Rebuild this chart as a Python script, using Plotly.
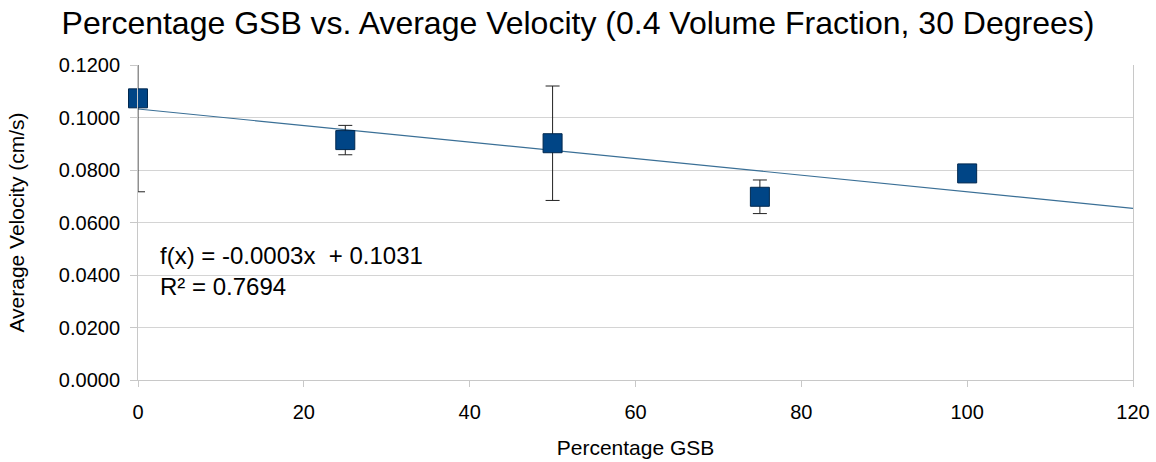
import numpy as np
import plotly.graph_objects as go

pct_gsb = [0, 25, 50, 75, 100]
avg_velocity = [0.1073, 0.0914, 0.0902, 0.0698, 0.0787]
velocity_err = [0.0356, 0.0056, 0.0218, 0.0064, 0.0003]
y_ticks = [0.0, 0.02, 0.04, 0.06, 0.08, 0.10, 0.12]
y_tick_labels = ["0.0000", "0.0200", "0.0400", "0.0600", "0.0800", "0.1000", "0.1200"]
x_ticks = [0, 20, 40, 60, 80, 100, 120]

slope, intercept = np.polyfit(pct_gsb, avg_velocity, 1)
trend_x = np.array([0, 120])
trend_y = slope * trend_x + intercept

FONT = "Liberation Sans, Arial, sans-serif"

fig = go.Figure()
fig.add_trace(go.Scatter(
    x=trend_x, y=trend_y, mode="lines",
    line=dict(color="#3a6f96", width=1.2), hoverinfo="skip", showlegend=False))
# error bars (clipped to plot area)
fig.add_trace(go.Scatter(
    x=pct_gsb, y=avg_velocity, mode="markers",
    marker=dict(size=1, color="rgba(0,0,0,0)"),
    error_y=dict(type="data", array=velocity_err, visible=True,
                 color="#222222", thickness=1, width=7),
    cliponaxis=True, showlegend=False))
# markers (not clipped)
fig.add_trace(go.Scatter(
    x=pct_gsb, y=avg_velocity, mode="markers",
    marker=dict(symbol="square", size=19, color="#004586",
                line=dict(color="#00284f", width=1)),
    cliponaxis=False, showlegend=False))

fig.add_annotation(
    x=0, xref="paper", xanchor="left", xshift=20,
    y=0.0415, yref="y", yanchor="middle",
    text="f(x) = -0.0003x  + 0.1031<br>R² = 0.7694",
    showarrow=False, align="left",
    font=dict(family=FONT, size=24, color="#000000"))

fig.update_layout(
    width=1156, height=462,
    margin=dict(l=138, r=23, t=65, b=82, autoexpand=False),
    paper_bgcolor="white", plot_bgcolor="white",
    title=dict(text="Percentage GSB vs. Average Velocity (0.4 Volume Fraction, 30 Degrees)",
               x=0.5, xanchor="center", y=0.95, yanchor="middle", yref="container",
               font=dict(family=FONT, size=32, color="#000000")),
    font=dict(family=FONT, size=20, color="#000000"),
    xaxis=dict(range=[0, 120], tickvals=x_ticks, showgrid=False, zeroline=False,
               automargin=False,
               showline=True, linecolor="#c8c8c8", linewidth=1,
               ticks="outside", ticklen=6, tickcolor="#c8c8c8", ticklabelstandoff=8,
               tickfont=dict(family=FONT, size=20),
               title=dict(text="Percentage GSB", font=dict(family=FONT, size=21), standoff=18)),
    yaxis=dict(range=[0, 0.12], tickvals=y_ticks, ticktext=y_tick_labels,
               showgrid=True, gridcolor="#d4d4d4", gridwidth=1, zeroline=False,
               automargin=False,
               showline=True, linecolor="#c8c8c8", linewidth=1, mirror=True,
               ticks="outside", ticklen=7, tickcolor="#c8c8c8", ticklabelstandoff=6,
               tickfont=dict(family=FONT, size=20),
               title=dict(text="Average Velocity (cm/s)", font=dict(family=FONT, size=21), standoff=28)),
)

fig.write_html("out.html")
